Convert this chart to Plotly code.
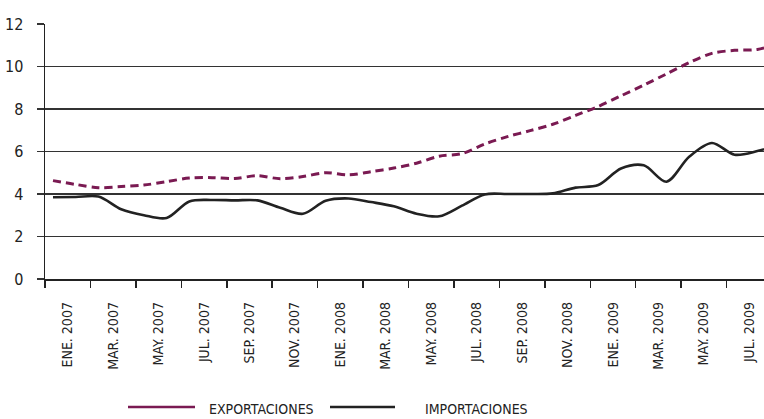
import plotly.graph_objects as go

# ---- data ----
meses = ["ENE. 2007", "FEB. 2007", "MAR. 2007", "ABR. 2007", "MAY. 2007", "JUN. 2007",
         "JUL. 2007", "AGO. 2007", "SEP. 2007", "OCT. 2007", "NOV. 2007", "DIC. 2007",
         "ENE. 2008", "FEB. 2008", "MAR. 2008", "ABR. 2008", "MAY. 2008", "JUN. 2008",
         "JUL. 2008", "AGO. 2008", "SEP. 2008", "OCT. 2008", "NOV. 2008", "DIC. 2008",
         "ENE. 2009", "FEB. 2009", "MAR. 2009", "ABR. 2009", "MAY. 2009", "JUN. 2009",
         "JUL. 2009", "AGO. 2009", "SEP. 2009"]

exportaciones = [4.63, 4.45, 4.30, 4.35, 4.42, 4.58, 4.75, 4.77, 4.73, 4.86, 4.72,
                 4.82, 5.00, 4.90, 5.05, 5.22, 5.45, 5.78, 5.90, 6.35, 6.70, 6.98,
                 7.28, 7.70, 8.12, 8.62, 9.12, 9.65, 10.18, 10.62, 10.76, 10.80, 11.10]

importaciones = [3.85, 3.86, 3.88, 3.28, 3.00, 2.87, 3.65, 3.72, 3.70, 3.70, 3.35,
                 3.07, 3.68, 3.79, 3.62, 3.42, 3.07, 2.95, 3.45, 3.98, 4.00, 4.00,
                 4.03, 4.30, 4.42, 5.20, 5.35, 4.58, 5.75, 6.40, 5.85, 6.02, 6.35]

y_ticks = [0, 2, 4, 6, 8, 10, 12]

# ---- styles ----
MAROON = "#7a1a52"
DARK = "#222222"
GRID = "#333333"
FONT = "Liberation Sans Narrow, Arial Narrow, DejaVu Sans Condensed, sans-serif"

W, H = 764, 419
ML, MR, MT, MB = 45, 0, 24, 140
OFFSET = 0.352          # gap between axis start and first month (in months)
MONTH_PX = 22.72        # pixel width of one month

x = list(range(len(meses)))
x0 = -OFFSET
x1 = x0 + (W - ML - MR) / MONTH_PX

fig = go.Figure()
fig.add_trace(go.Scatter(
    x=x, y=importaciones, mode="lines", name="IMPORTACIONES",
    line=dict(color=DARK, width=2.6, shape="spline", smoothing=0.9),
    showlegend=False))
fig.add_trace(go.Scatter(
    x=x, y=exportaciones, mode="lines", name="EXPORTACIONES",
    line=dict(color=MAROON, width=3, dash="8px,5px", shape="spline", smoothing=0.9),
    showlegend=False))

label_idx = list(range(0, 32, 2))
fig.update_xaxes(
    range=[x0, x1],
    automargin=False,
    tickmode="array",
    tickvals=[i + 1 - OFFSET for i in label_idx],
    ticktext=[meses[i] for i in label_idx],
    tickangle=-90,
    ticks="",
    showgrid=False,
    zeroline=False,
    showline=True, linecolor=DARK, linewidth=1.5,
    tickfont=dict(family=FONT, size=14, color="#222"),
    minor=dict(tickmode="linear", tick0=x0, dtick=2, ticks="outside",
               ticklen=7, tickwidth=1.5, tickcolor=DARK, showgrid=False),
    ticklabelstandoff=16,
)
fig.update_yaxes(
    range=[0, 12],
    automargin=False,
    tickmode="array", tickvals=y_ticks, ticktext=[str(v) for v in y_ticks],
    showgrid=True, gridcolor=GRID, gridwidth=1.4,
    zeroline=False,
    showline=True, linecolor=DARK, linewidth=1.5,
    ticks="outside", ticklen=7, tickwidth=1.4, tickcolor=GRID,
    tickfont=dict(family=FONT, size=16, color="#222"),
    ticklabelstandoff=10,
)

# manual legend (paper coordinates)
def px_x(p):
    return (p - ML) / (W - ML - MR)

def px_y(p):
    return (H - MB - p) / (H - MT - MB)

legend_items = [("EXPORTACIONES", MAROON, 128, 195, 207),
                ("IMPORTACIONES", DARK, 330, 395, 423)]
for name, color, lx0, lx1, tx in legend_items:
    fig.add_shape(type="line", xref="paper", yref="paper",
                  x0=px_x(lx0), x1=px_x(lx1), y0=px_y(407), y1=px_y(407),
                  line=dict(color=color, width=2.5))
    fig.add_annotation(xref="paper", yref="paper", x=px_x(tx), y=px_y(409),
                       text=name, showarrow=False, xanchor="left", yanchor="middle",
                       font=dict(family=FONT, size=14, color="#222"))

fig.update_layout(
    width=W, height=H,
    margin=dict(l=ML, r=MR, t=MT, b=MB),
    paper_bgcolor="white", plot_bgcolor="white",
    showlegend=False,
)

fig.write_html("out.html",
               config={"displayModeBar": False, "staticPlot": True},
               post_script="document.body.style.margin='0';document.body.style.overflow='hidden';")
